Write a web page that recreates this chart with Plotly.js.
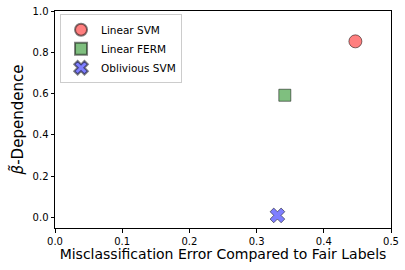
<!DOCTYPE html>
<html><head><meta charset="utf-8">
<script src="https://cdn.plot.ly/plotly-3.0.1.min.js"></script>
<style>html,body{margin:0;padding:0;background:#fff}#plot{width:405px;height:270px}</style>
</head><body><div id="plot"></div>
<script>
var seriesNames = ["Linear SVM", "Linear FERM", "Oblivious SVM"];
var errorValues = [0.447, 0.342, 0.331];
var dependenceValues = [0.853, 0.592, 0.010];
var xTicks = [0, 0.1, 0.2, 0.3, 0.4, 0.5];
var xTickLabels = ["0.0", "0.1", "0.2", "0.3", "0.4", "0.5"];
var yTicks = [0, 0.2, 0.4, 0.6, 0.8, 1.0];
var yTickLabels = ["0.0", "0.2", "0.4", "0.6", "0.8", "1.0"];

var styles = [
  {symbol: "circle", color: "rgba(255,0,0,0.5)", size: 13},
  {symbol: "square", color: "rgba(0,128,0,0.5)", size: 12},
  {symbol: "x", color: "rgba(0,0,255,0.5)", size: 13}
];
var traces = seriesNames.map(function(n, i) {
  return {
    type: "scatter", mode: "markers", name: n,
    x: [errorValues[i]], y: [dependenceValues[i]],
    marker: {symbol: styles[i].symbol, size: styles[i].size, color: styles[i].color,
             line: {color: "rgba(0,0,0,0.5)", width: 1}}
  };
});
var font = "DejaVu Sans, sans-serif";
var layout = {
  width: 405, height: 270,
  margin: {l: 55, r: 14, t: 11, b: 42},
  paper_bgcolor: "#fff", plot_bgcolor: "#fff",
  font: {family: font, size: 10, color: "#000"},
  showlegend: true,
  legend: {x: 0.015, y: 0.985, xanchor: "left", yanchor: "top",
           bgcolor: "rgba(255,255,255,0.8)", bordercolor: "#cccccc", borderwidth: 1,
           font: {family: font, size: 10.5}, tracegroupgap: 0, itemwidth: 30,
           itemsizing: "constant"},
  xaxis: {range: [0, 0.5], tickvals: xTicks, ticktext: xTickLabels,
          showgrid: false, zeroline: false, showline: true, linecolor: "#000", linewidth: 1,
          mirror: true, ticks: "outside", ticklen: 3.5, tickcolor: "#000",
          tickfont: {family: font, size: 10},
          title: {text: "Misclassification Error Compared to Fair Labels", font: {family: font, size: 14}, standoff: 3}},
  yaxis: {range: [-0.051, 1.0], tickvals: yTicks, ticktext: yTickLabels,
          showgrid: false, zeroline: false, showline: true, linecolor: "#000", linewidth: 1,
          mirror: true, ticks: "outside", ticklen: 3.5, tickcolor: "#000",
          tickfont: {family: font, size: 10},
          title: {text: "<i>β\u0303</i>-Dependence", font: {family: font, size: 15}, standoff: 5}}
};
Plotly.newPlot("plot", traces, layout, {displayModeBar: false, staticPlot: true});
</script></body></html>
